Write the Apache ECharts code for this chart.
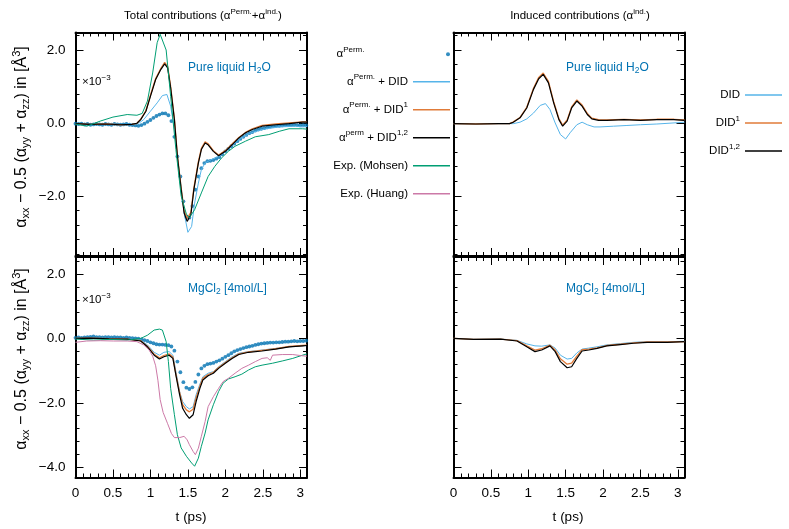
<!DOCTYPE html>
<html>
<head>
<meta charset="utf-8">
<script src="https://cdn.jsdelivr.net/npm/echarts@6/dist/echarts.min.js"></script>
<style>html,body{margin:0;background:#fff}#chart{width:789px;height:529px}</style>
</head>
<body>
<div id="chart"></div>
<script>
// ---- data ----
// dots (alpha Perm.) sampled every 0.04 ps
const tDots = [0,0.04,0.08,0.12,0.16,0.2,0.24,0.28,0.32,0.36,0.4,0.44,0.48,0.52,0.56,0.6,0.64,0.68,0.72,0.76,
  0.8,0.84,0.88,0.92,0.96,1.0,1.04,1.08,1.12,1.16,1.2,1.24,1.28,1.32,1.36,1.4,1.44,1.48,1.52,1.56,
  1.6,1.64,1.68,1.72,1.76,1.8,1.84,1.88,1.92,1.96,2.0,2.04,2.08,2.12,2.16,2.2,2.24,2.28,2.32,2.36,
  2.4,2.44,2.48,2.52,2.56,2.6,2.64,2.68,2.72,2.76,2.8,2.84,2.88,2.92,2.96,3.0,3.04,3.08]

// top left: pure water, total
const tlPermV = [-0.02,-0.03,-0.02,-0.04,-0.03,-0.05,-0.04,-0.03,-0.04,-0.05,
  -0.03,-0.04,-0.05,-0.03,-0.04,-0.05,-0.04,-0.03,-0.05,-0.06,
  -0.07,-0.08,-0.06,-0.02,0.03,0.08,0.14,0.19,0.23,0.26,
  0.26,0.21,0.05,-0.38,-0.92,-1.47,-2.15,-2.58,-2.6,-2.28,
  -1.83,-1.47,-1.24,-1.1,-1.05,-1.04,-1.02,-0.98,-0.94,-0.86,
  -0.78,-0.71,-0.64,-0.57,-0.5,-0.44,-0.38,-0.33,-0.28,-0.25,
  -0.21,-0.18,-0.16,-0.14,-0.12,-0.1,-0.09,-0.08,-0.08,-0.07,
  -0.06,-0.05,-0.06,-0.05,-0.06,-0.07,-0.06,-0.07]
const tlDidT = [0,0.2,0.4,0.6,0.75,0.85,0.91,1.0,1.09,1.16,1.22,1.27,1.32,1.36,1.41,1.45,1.5,1.55,1.59,1.64,
  1.68,1.73,1.79,1.86,1.93,2.0,2.09,2.18,2.32,2.49,2.72,2.94,3.03,3.09]
const tlDidV = [-0.02,-0.04,-0.03,-0.05,-0.04,0.0,0.09,0.32,0.55,0.75,0.78,0.46,-0.18,-0.92,-1.74,-2.47,-3.0,-2.84,-2.2,-1.65,
  -1.28,-1.1,-1.03,-0.96,-0.9,-0.78,-0.62,-0.46,-0.29,-0.18,-0.11,-0.09,-0.11,-0.1]
const tlT12 = [0,0.2,0.4,0.6,0.75,0.82,0.87,0.94,1.0,1.07,1.14,1.19,1.23,1.27,1.32,1.36,1.41,1.45,1.49,1.54,
  1.58,1.64,1.68,1.73,1.77,1.84,1.91,2.0,2.09,2.18,2.27,2.36,2.49,2.67,2.85,3.03,3.09]
const tlDid1V = [-0.02,-0.04,-0.03,-0.05,-0.04,-0.01,0.1,0.34,0.76,1.22,1.5,1.66,1.55,1.0,0.12,-0.88,-1.78,-2.4,-2.62,-2.45,
  -1.78,-1.06,-0.7,-0.52,-0.57,-0.76,-0.88,-0.76,-0.58,-0.4,-0.26,-0.16,-0.07,-0.03,0.0,0.03,0.03]
const tlDid12V = [-0.02,-0.04,-0.03,-0.05,-0.04,-0.01,0.09,0.32,0.73,1.19,1.47,1.62,1.51,0.96,0.09,-0.92,-1.83,-2.47,-2.7,-2.52,
  -1.83,-1.1,-0.73,-0.55,-0.6,-0.78,-0.9,-0.78,-0.6,-0.41,-0.27,-0.18,-0.09,-0.05,-0.02,0.02,0.02]
const tlMohsenT = [0,0.15,0.33,0.5,0.69,0.82,0.89,0.96,1.03,1.09,1.13,1.21,1.27,1.34,1.41,1.48,1.52,1.59,1.68,1.77,
  1.86,1.95,2.04,2.13,2.27,2.4,2.58,2.72,2.85,3.03,3.09]
const tlMohsenV = [-0.03,-0.09,0.05,0.16,0.23,0.21,0.26,0.6,1.37,2.2,2.43,2.0,0.73,-0.73,-2.0,-2.5,-2.6,-2.38,-1.92,-1.47,
  -1.19,-0.96,-0.78,-0.64,-0.5,-0.38,-0.32,-0.23,-0.16,-0.16,-0.17]

// bottom left: MgCl2, total
const blPermV = [0.02,0.03,0.02,0.03,0.04,0.05,0.06,0.04,0.04,0.03,
  0.04,0.04,0.03,0.04,0.03,0.03,0.02,0.03,0.02,0.01,
  0.0,-0.01,-0.03,-0.05,-0.08,-0.12,-0.15,-0.18,-0.19,-0.19,
  -0.2,-0.21,-0.25,-0.38,-0.72,-1.05,-1.36,-1.53,-1.57,-1.52,
  -1.35,-1.12,-0.93,-0.85,-0.8,-0.78,-0.76,-0.72,-0.68,-0.63,
  -0.57,-0.52,-0.46,-0.4,-0.36,-0.33,-0.3,-0.27,-0.25,-0.23,
  -0.2,-0.18,-0.16,-0.15,-0.14,-0.13,-0.13,-0.12,-0.12,-0.11,
  -0.1,-0.1,-0.09,-0.08,-0.09,-0.08,-0.08,-0.07]
const blT = [0,0.2,0.45,0.69,0.87,0.96,1.05,1.12,1.18,1.25,1.3,1.34,1.39,1.43,1.48,1.52,1.57,1.61,1.66,1.7,
  1.77,1.84,1.91,2.0,2.09,2.18,2.31,2.49,2.67,2.85,3.03,3.09]
const blDidV = [0,0.01,-0.01,-0.02,-0.05,-0.2,-0.43,-0.52,-0.43,-0.41,-0.52,-1.03,-1.65,-1.96,-2.12,-2.19,-2.12,-1.75,-1.42,-1.19,
  -1.08,-1.03,-0.88,-0.72,-0.57,-0.46,-0.41,-0.36,-0.31,-0.26,-0.23,-0.22]
const blDid1V = [0,0.01,-0.01,-0.02,-0.07,-0.24,-0.49,-0.6,-0.53,-0.48,-0.58,-1.1,-1.68,-2.06,-2.22,-2.28,-2.2,-1.84,-1.48,-1.24,
  -1.12,-1.05,-0.9,-0.75,-0.6,-0.48,-0.42,-0.37,-0.32,-0.25,-0.22,-0.21]
const blDid12V = [0,0.01,-0.01,-0.02,-0.08,-0.26,-0.52,-0.64,-0.57,-0.52,-0.62,-1.14,-1.75,-2.17,-2.37,-2.48,-2.37,-1.96,-1.55,-1.29,
  -1.16,-1.08,-0.93,-0.77,-0.62,-0.5,-0.43,-0.39,-0.33,-0.26,-0.23,-0.22]
const blMohsenT = [0,0.24,0.46,0.69,0.87,0.96,1.05,1.12,1.16,1.21,1.24,1.27,1.32,1.36,1.41,1.48,1.55,1.59,1.64,1.68,
  1.73,1.77,1.84,1.91,1.97,2.04,2.13,2.22,2.31,2.4,2.49,2.63,2.76,2.9,3.03,3.09]
const blMohsenV = [-0.02,-0.05,-0.03,-0.05,0.0,0.1,0.26,0.29,0.26,-0.1,-0.72,-1.55,-2.37,-2.99,-3.4,-3.66,-3.87,-3.97,-3.72,-3.35,
  -2.94,-2.53,-2.06,-1.65,-1.39,-1.26,-1.19,-1.11,-0.98,-0.88,-0.83,-0.77,-0.7,-0.62,-0.52,-0.48]
const blHuangT = [0,0.15,0.33,0.51,0.69,0.82,0.91,0.98,1.03,1.07,1.1,1.13,1.17,1.23,1.28,1.32,1.39,1.45,1.49,1.52,
  1.57,1.6,1.64,1.68,1.73,1.77,1.84,1.91,1.97,2.04,2.13,2.22,2.31,2.4,2.49,2.56,2.6,2.63,2.76,2.9,3.03,3.09]
const blHuangV = [-0.12,-0.08,-0.07,-0.08,-0.08,-0.1,-0.2,-0.35,-0.55,-0.85,-1.3,-1.9,-2.3,-2.65,-2.95,-3.08,-3.08,-3.04,-3.15,-3.3,
  -3.51,-3.61,-3.41,-3.04,-2.58,-2.12,-1.81,-1.55,-1.34,-1.24,-1.08,-0.93,-0.83,-0.72,-0.62,-0.6,-0.68,-0.52,-0.5,-0.5,-0.54,-0.55]

// top right: pure water, induced
const trT = [0,0.3,0.6,0.75,0.8,0.89,0.98,1.07,1.14,1.2,1.27,1.34,1.41,1.46,1.52,1.58,1.65,1.72,1.79,1.85,
  1.94,2.05,2.28,2.5,2.72,2.95,3.09]
const trDid1V = [-0.02,-0.03,-0.02,-0.02,0.03,0.15,0.43,0.95,1.25,1.37,1.14,0.58,0.12,-0.06,0.08,0.44,0.63,0.49,0.26,0.13,
  0.09,0.08,0.1,0.08,0.1,0.1,0.08]
const trDid12V = [-0.02,-0.03,-0.02,-0.02,0.02,0.14,0.41,0.92,1.21,1.33,1.1,0.55,0.09,-0.09,0.05,0.41,0.6,0.46,0.23,0.11,
  0.07,0.07,0.09,0.07,0.09,0.09,0.07]
const trDidT = [0,0.3,0.6,0.8,0.89,0.98,1.07,1.16,1.23,1.29,1.36,1.43,1.5,1.56,1.65,1.72,1.79,1.88,1.96,2.14,
  2.32,2.5,2.72,2.95,3.09]
const trDidV = [-0.02,-0.03,-0.02,-0.02,0.02,0.11,0.27,0.48,0.53,0.37,0.0,-0.32,-0.44,-0.27,-0.05,0.02,-0.05,-0.11,-0.11,-0.09,
  -0.07,-0.05,-0.03,0.0,0.02]

// bottom right: MgCl2, induced
const brT = [0,0.27,0.63,0.85,0.98,1.09,1.18,1.29,1.36,1.43,1.52,1.58,1.65,1.72,1.81,1.92,2.05,2.23,2.41,2.59,2.86,3.09]
const brDidV = [0,-0.03,-0.02,-0.06,-0.17,-0.23,-0.24,-0.2,-0.3,-0.52,-0.64,-0.62,-0.45,-0.33,-0.3,-0.26,-0.2,-0.16,-0.12,-0.1,-0.1,-0.09]
const brDid1V = [0,-0.03,-0.02,-0.07,-0.23,-0.36,-0.32,-0.21,-0.36,-0.63,-0.8,-0.77,-0.55,-0.35,-0.33,-0.29,-0.22,-0.18,-0.14,-0.11,-0.11,-0.1]
const brDid12V = [0,-0.03,-0.02,-0.08,-0.26,-0.41,-0.36,-0.23,-0.41,-0.72,-0.91,-0.88,-0.62,-0.39,-0.36,-0.31,-0.23,-0.19,-0.15,-0.12,-0.12,-0.1]

// ticks
const xMajor = [0, 0.5, 1, 1.5, 2, 2.5, 3]
const xMinor = [0,0.1,0.2,0.3,0.4,0.5,0.6,0.7,0.8,0.9,1,1.1,1.2,1.3,1.4,1.5,1.6,1.7,1.8,1.9,2,2.1,2.2,2.3,2.4,2.5,2.6,2.7,2.8,2.9,3]
const yMajorTop = [-2, 0, 2]
const yMinorTop = [-3.6,-3.2,-2.8,-2.4,-2,-1.6,-1.2,-0.8,-0.4,0,0.4,0.8,1.2,1.6,2,2.4]
const yMajorBot = [-4, -2, 0, 2]
const yMinorBot = [-4,-3.6,-3.2,-2.8,-2.4,-2,-1.6,-1.2,-0.8,-0.4,0,0.4,0.8,1.2,1.6,2,2.4]

const FONT = 'Liberation Sans'
const C = {
  perm: '#0072b2', did: '#56b4e9', did1: '#e07b39', did12: '#000000', mohsen: '#009e73', huang: '#cc79a7'
}

const panels = [
  { left: 75.5, top: 32.5, width: 231.5, height: 223.5, ymin: -3.65, ymax: 2.48, yMaj: yMajorTop, yMin: yMinorTop, xLab: false, yLab: true },
  { left: 75.5, top: 257, width: 231.5, height: 220.5, ymin: -4.32, ymax: 2.53, yMaj: yMajorBot, yMin: yMinorBot, xLab: true, yLab: true },
  { left: 453.5, top: 32.5, width: 231, height: 223.5, ymin: -3.65, ymax: 2.48, yMaj: yMajorTop, yMin: yMinorTop, xLab: false, yLab: false },
  { left: 453.5, top: 257, width: 231, height: 220.5, ymin: -4.32, ymax: 2.53, yMaj: yMajorBot, yMin: yMinorBot, xLab: true, yLab: false }
]

const labelStyle = { color: '#000', fontSize: 13.5, fontFamily: FONT }

function mkAxis (gi, pos, min, max, ticks, len, line, label) {
  return {
    type: 'value', gridIndex: gi, position: pos, min: min, max: max, offset: 0,
    axisLine: { show: line, onZero: false, lineStyle: { color: '#000', width: 2 } },
    axisTick: { show: true, inside: true, length: len, customValues: ticks, lineStyle: { color: '#000', width: 1 } },
    axisLabel: label || { show: false },
    splitLine: { show: false },
    minorTick: { show: false }
  }
}

const grids = []
const xAxes = []
const yAxes = []
panels.forEach(function (p, gi) {
  grids.push({ left: p.left, top: p.top, width: p.width, height: p.height, containLabel: false, outerBoundsMode: 'none' })
  const xLabel = p.xLab ? Object.assign({ show: true, margin: 9, customValues: xMajor, formatter: function (v) { return String(v) } }, labelStyle) : null
  xAxes.push(mkAxis(gi, 'bottom', 0, 3.09, xMajor, 8, true, xLabel))
  xAxes.push(mkAxis(gi, 'bottom', 0, 3.09, xMinor, 4, false, null))
  xAxes.push(mkAxis(gi, 'top', 0, 3.09, xMajor, 8, true, null))
  xAxes.push(mkAxis(gi, 'top', 0, 3.09, xMinor, 4, false, null))
  const yLabel = p.yLab ? Object.assign({
    show: true, margin: 10, customValues: p.yMaj,
    formatter: function (v) { return (v < 0 ? '\u2212' : '') + Math.abs(v).toFixed(1) }
  }, labelStyle) : null
  yAxes.push(mkAxis(gi, 'left', p.ymin, p.ymax, p.yMaj, 8, true, yLabel))
  yAxes.push(mkAxis(gi, 'left', p.ymin, p.ymax, p.yMin, 4, false, null))
  yAxes.push(mkAxis(gi, 'right', p.ymin, p.ymax, p.yMaj, 8, true, null))
  yAxes.push(mkAxis(gi, 'right', p.ymin, p.ymax, p.yMin, 4, false, null))
})

function pairs (t, v) { return t.map(function (x, i) { return [x, v[i]] }) }

function line (name, gi, t, v, color, w) {
  return {
    name: name, type: 'line', xAxisIndex: gi * 4, yAxisIndex: gi * 4,
    data: pairs(t, v), symbol: 'none', showSymbol: false, smooth: false,
    color: color, lineStyle: { color: color, width: w }
  }
}
function dots (name, gi, t, v) {
  return {
    name: name, type: 'scatter', xAxisIndex: gi * 4, yAxisIndex: gi * 4,
    data: pairs(t, v), symbol: 'circle', symbolSize: 3.8,
    color: C.perm, itemStyle: { color: C.perm }
  }
}

const series = [
  dots('perm', 0, tDots, tlPermV),
  line('did', 0, tlDidT, tlDidV, C.did, 1),
  line('did1', 0, tlT12, tlDid1V, C.did1, 1.3),
  line('did12', 0, tlT12, tlDid12V, C.did12, 1.2),
  line('mohsen', 0, tlMohsenT, tlMohsenV, C.mohsen, 1),

  dots('perm', 1, tDots, blPermV),
  line('did', 1, blT, blDidV, C.did, 1),
  line('did1', 1, blT, blDid1V, C.did1, 1.3),
  line('did12', 1, blT, blDid12V, C.did12, 1.2),
  line('mohsen', 1, blMohsenT, blMohsenV, C.mohsen, 1),
  line('huang', 1, blHuangT, blHuangV, C.huang, 1),

  line('rdid', 2, trDidT, trDidV, C.did, 1),
  line('rdid1', 2, trT, trDid1V, C.did1, 1.3),
  line('rdid12', 2, trT, trDid12V, C.did12, 1.2),

  line('rdid', 3, brT, brDidV, C.did, 1),
  line('rdid1', 3, brT, brDid1V, C.did1, 1.3),
  line('rdid12', 3, brT, brDid12V, C.did12, 1.2)
]

const legendText = {
  perm: '{g|\u03b1}{supw|Perm.}',
  did: '{g|\u03b1}{sup|Perm.}{t| + DID}',
  did1: '{g|\u03b1}{sup|Perm.}{t| + DID}{sup|1}',
  did12: '{g|\u03b1}{sup|perm}{t| + DID}{sup|1,2}',
  mohsen: '{t|Exp. (Mohsen)}',
  huang: '{t|Exp. (Huang)}',
  rdid: '{t|DID}',
  rdid1: '{t|DID}{sup|1}',
  rdid12: '{t|DID}{sup|1,2}'
}
const legRich = {
  t: { fontSize: 11.5, lineHeight: 20, color: '#000', fontFamily: FONT },
  g: { fontSize: 11.5, lineHeight: 20, color: '#000', fontFamily: FONT },
  sup: { fontSize: 8, lineHeight: 20, color: '#000', fontFamily: FONT, padding: [0, 0, 9, 0] },
  supw: { fontSize: 8, lineHeight: 20, color: '#000', fontFamily: FONT, padding: [0, 60, 9, 0] }
}
function mkLegend (names, right, top, icon, ih) {
  return {
    data: names, orient: 'vertical', align: 'right', right: right, top: top, padding: 0,
    icon: icon, itemWidth: 37, itemHeight: ih, itemGap: 8, selectedMode: false,
    itemStyle: { borderWidth: 0 },
    formatter: function (n) { return legendText[n] },
    textStyle: { fontFamily: FONT, fontSize: 11.5, color: '#000', lineHeight: 20, rich: legRich }
  }
}

// ---- text decorations (zrender styles: fill, not color) ----
const txtRich = {
  t: { fontSize: 11.5, lineHeight: 18, fontFamily: FONT, fill: '#000' },
  s: { fontSize: 8, lineHeight: 18, fontFamily: FONT, fill: '#000', padding: [0, 0, 9, 0] },
  y: { fontSize: 16, lineHeight: 22, fontFamily: FONT, fill: '#000' },
  ysub: { fontSize: 11, lineHeight: 22, fontFamily: FONT, fill: '#000', padding: [8, 0, 0, 0] },
  ysup: { fontSize: 11, lineHeight: 22, fontFamily: FONT, fill: '#000', padding: [0, 0, 11, 0] },
  b: { fontSize: 12, lineHeight: 18, fontFamily: FONT, fill: '#0072b2' },
  bs: { fontSize: 8.5, lineHeight: 18, fontFamily: FONT, fill: '#0072b2', padding: [6, 0, 0, 0] },
  x: { fontSize: 13.5, lineHeight: 18, fontFamily: FONT, fill: '#000' }
}
function txt (x, y, text, align, rot) {
  return {
    type: 'text', x: x, y: y, rotation: rot || 0, silent: true,
    style: { text: text, rich: txtRich, fill: '#000', align: align || 'center', verticalAlign: 'middle' }
  }
}
const yName = '{y|\u03b1}{ysub|xx}{y| \u2212 0.5 (}{y|\u03b1}{ysub|yy}{y| + }{y|\u03b1}{ysub|zz}{y|) in [\u00c5}{ysup|3}{y|]}'
const graphics = [
  txt(203, 16, '{t|Total contributions (}{t|\u03b1}{s|Perm.}{t|+}{t|\u03b1}{s|ind.}{t|)}'),
  txt(580, 16, '{t|Induced contributions (}{t|\u03b1}{s|ind.}{t|)}'),
  txt(22, 137, yName, 'center', Math.PI / 2),
  txt(22, 359, yName, 'center', Math.PI / 2),
  txt(82, 82, '{t|\u00d710}{s|\u22123}', 'left'),
  txt(82, 300, '{t|\u00d710}{s|\u22123}', 'left'),
  txt(188, 68, '{b|Pure liquid H}{bs|2}{b|O}', 'left'),
  txt(188, 289, '{b|MgCl}{bs|2}{b| [4mol/L]}', 'left'),
  txt(566, 68, '{b|Pure liquid H}{bs|2}{b|O}', 'left'),
  txt(566, 289, '{b|MgCl}{bs|2}{b| [4mol/L]}', 'left'),
  txt(191, 517, '{x|t (ps)}'),
  txt(568, 517, '{x|t (ps)}')
]

const chart = echarts.init(document.getElementById('chart'), null, { renderer: 'canvas' })
chart.setOption({
  animation: false,
  backgroundColor: '#fff',
  textStyle: { fontFamily: FONT },
  grid: grids,
  xAxis: xAxes,
  yAxis: yAxes,
  legend: [
    mkLegend(['perm'], 339, 44.3, 'circle', 4),
    mkLegend(['did', 'did1', 'did12', 'mohsen', 'huang'], 339, 71.7, 'rect', 1.5),
    mkLegend(['rdid', 'rdid1', 'rdid12'], 7, 85, 'rect', 1.5)
  ],
  graphic: graphics,
  series: series
})
</script>
</body>
</html>
